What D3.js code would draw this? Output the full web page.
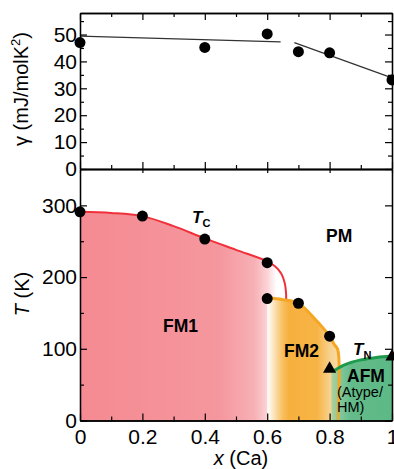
<!DOCTYPE html>
<html>
<head>
<meta charset="utf-8">
<script src="https://cdn.jsdelivr.net/npm/d3@7"></script>
<style>
  body { margin: 0; background: #fff; }
  text { font-family: "Liberation Sans", Arial, sans-serif; }
</style>
</head>
<body>
<script>
// data
const xMajor = [0, 0.2, 0.4, 0.6, 0.8, 1]
const xMinor = [0.1, 0.3, 0.5, 0.7, 0.9]
const gammaTicks = [0, 10, 20, 30, 40, 50]
const gammaMinor = [5, 15, 25, 35, 45, 55]
const tTicks = [0, 100, 200, 300]
const tMinor = [50, 150, 250]

const gammaX = [0, 0.4, 0.6, 0.7, 0.8, 1.0]
const gammaVal = [47, 45.2, 50.2, 43.6, 43.2, 33.1]
const gammaFit1 = [[0, 49.4], [0.643, 47.3]]
const gammaFit2 = [[0.687, 47.0], [1.0, 33.9]]

const tcX = [0, 0.2, 0.4, 0.6]
const tcVal = [291, 285, 253, 220]
const fm2X = [0.6, 0.7, 0.8]
const fm2Val = [170, 163.5, 117.5]
const tnX = [0.8, 1.0]
const tnVal = [72, 89]

const tcCurve = [[0, 291], [0.1, 289.5], [0.2, 285], [0.3, 271], [0.4, 254], [0.5, 238], [0.6, 222], [0.625, 215], [0.645, 205], [0.656, 192], [0.66, 180], [0.661, 168]]
const fm2Curve = [[0.6, 171], [0.65, 168.5], [0.7, 163.5], [0.75, 143], [0.8, 117.5], [0.815, 106], [0.826, 99], [0.826, 0]]
const tnCurve = [[0.812, 69], [0.85, 78], [0.9, 84.5], [0.95, 88], [1.0, 90]]

const w = 394
const h = 469
const left = 80
const right = 392
const svg = d3.select("body").append("svg").attr("width", w).attr("height", h)

const x = d3.scaleLinear().domain([0, 1]).range([left, right])
const yG = d3.scaleLinear().domain([0, 58]).range([169, 13])
const yT = d3.scaleLinear().domain([0, 350]).range([420.5, 169.5])

const defs = svg.append("defs")
function grad(id, stops) {
  const g = defs.append("linearGradient").attr("id", id)
    .attr("gradientUnits", "userSpaceOnUse")
    .attr("x1", x(0)).attr("x2", x(1)).attr("y1", 0).attr("y2", 0)
  stops.forEach((s) => g.append("stop").attr("offset", s[0]).attr("stop-color", s[1]))
}
grad("pink", [[0, "#f58a92"], [0.45, "#f5979e"], [0.56, "#f7b1b6"], [0.6, "#fbd3d6"], [0.63, "#ffffff"]])
grad("orange", [[0.6, "#ffffff"], [0.615, "#fdecd2"], [0.65, "#f8bf5e"], [0.67, "#f7b03e"], [0.76, "#f7b445"], [0.8, "#f8d08c"], [0.83, "#f6dca8"]])
grad("green", [[0.8, "#cfe6c2"], [0.83, "#86c99e"], [0.87, "#63bb89"], [1, "#5cb986"]])

const line = d3.line().x((d) => x(d[0])).curve(d3.curveCatmullRom)
const lineT = line.y((d) => yT(d[1]))

// regions
svg.append("path")
  .attr("d", lineT(tcCurve) + `L${x(0.661)},${yT(0)}L${x(0)},${yT(0)}Z`)
  .attr("fill", "url(#pink)")
svg.append("path")
  .attr("d", `M${x(0.6)},${yT(0)}` + lineT(fm2Curve).replace("M", "L") + "Z")
  .attr("fill", "url(#orange)")
svg.append("path")
  .attr("d", lineT(tnCurve.slice(0, 1).concat(tnCurve)) + `L${x(1)},${yT(0)}L${x(0.806)},${yT(0)}L${x(0.806)},${yT(69)}Z`)
  .attr("fill", "url(#green)")

// boundary lines
svg.append("path").attr("d", lineT(tcCurve)).attr("fill", "none")
  .attr("stroke", "#f0303a").attr("stroke-width", 2)
svg.append("path").attr("d", lineT(fm2Curve)).attr("fill", "none")
  .attr("stroke", "#f5a623").attr("stroke-width", 3)
svg.append("path")
  .attr("d", `M${x(0.806)},${yT(69)}L${x(0.826)},${yT(69)}L${x(0.826)},${yT(0)}L${x(0.806)},${yT(0)}Z`)
  .attr("fill", "#9cc489").attr("opacity", 0.55)
svg.append("path").attr("d", lineT(tnCurve)).attr("fill", "none")
  .attr("stroke", "#1e9a4c").attr("stroke-width", 3)

// gamma fits
const lineG = d3.line().x((d) => x(d[0])).y((d) => yG(d[1]))
;[gammaFit1, gammaFit2].forEach((f) => {
  svg.append("path").attr("d", lineG(f)).attr("stroke", "#333").attr("stroke-width", 1.2).attr("fill", "none")
})

// axes
function ax(gen, tx, ty, ticks, size, labels, pad) {
  const a = gen.tickValues(ticks).tickSizeInner(size).tickSizeOuter(0).tickPadding(pad || 3)
  a.tickFormat(labels ? (d) => String(d) : "")
  const g = svg.append("g").attr("transform", `translate(${tx},${ty})`).call(a)
  g.selectAll("line").attr("stroke", "#000").attr("stroke-width", 1.2)
  g.select(".domain").attr("stroke", "#000").attr("stroke-width", 1.3)
  g.selectAll("text").attr("font-size", 21).attr("fill", "#000")
    .style("font-family", '"Liberation Sans", Arial, sans-serif')
  return g
}
// top panel
ax(d3.axisTop(x), 0, 13, xMajor, -7)
ax(d3.axisTop(x), 0, 13, xMinor, -4)
ax(d3.axisBottom(x), 0, 169, xMajor, -7)
ax(d3.axisBottom(x), 0, 169, xMajor, 4)
ax(d3.axisBottom(x), 0, 169, xMinor, -4)
ax(d3.axisLeft(yG), left, 0, gammaTicks, -7, true, 3)
ax(d3.axisLeft(yG), left, 0, gammaMinor, -4)
ax(d3.axisRight(yG), right, 0, gammaTicks, -7)
ax(d3.axisRight(yG), right, 0, gammaMinor, -4)
// bottom panel
ax(d3.axisBottom(x), 0, 420.5, xMajor, -7, true, 9)
ax(d3.axisBottom(x), 0, 420.5, xMinor, -4)
ax(d3.axisLeft(yT), left, 0, tTicks, -7, true, 3)
ax(d3.axisLeft(yT), left, 0, tMinor, -4)
ax(d3.axisRight(yT), right, 0, tTicks, -7)
ax(d3.axisRight(yT), right, 0, tMinor, -4)

// points
svg.selectAll(".g").data(gammaX).enter().append("circle")
  .attr("cx", (d) => x(d)).attr("cy", (d, i) => yG(gammaVal[i])).attr("r", 5.5).attr("fill", "#000")
const tPts = tcX.map((d, i) => [d, tcVal[i]]).concat(fm2X.map((d, i) => [d, fm2Val[i]]))
svg.selectAll(".t").data(tPts).enter().append("circle")
  .attr("cx", (d) => x(d[0])).attr("cy", (d) => yT(d[1])).attr("r", 5.5).attr("fill", "#000")
svg.selectAll(".n").data(tnX).enter().append("path")
  .attr("d", d3.symbol(d3.symbolTriangle).size(75))
  .attr("transform", (d, i) => `translate(${x(d)},${yT(tnVal[i])})`).attr("fill", "#000")

// labels
svg.append("text").attr("transform", "translate(28,89) rotate(-90)").attr("text-anchor", "middle")
  .attr("font-size", 20).html('γ (mJ/molK<tspan dy="-8" font-size="13">2</tspan><tspan dy="8">)</tspan>')
svg.append("text").attr("transform", "translate(29,294) rotate(-90)").attr("text-anchor", "middle")
  .attr("font-size", 20).html('<tspan font-style="italic">T</tspan> (K)')
svg.append("text").attr("x", 241).attr("y", 465).attr("text-anchor", "middle")
  .attr("font-size", 20).html('<tspan font-style="italic">x</tspan> (Ca)')

function lab(tx, ty, txt, size, bold) {
  svg.append("text").attr("x", tx).attr("y", ty).attr("font-size", size)
    .attr("font-weight", bold ? "bold" : "normal").html(txt)
}
lab(192, 223, '<tspan font-style="italic">T</tspan><tspan font-size="11" dy="4">C</tspan>', 17, true)
lab(353, 355, '<tspan font-style="italic">T</tspan><tspan font-size="11" dy="4">N</tspan>', 17, true)
lab(326, 242, "PM", 17.5, true)
lab(163, 332, "FM1", 17.5, true)
lab(284, 357, "FM2", 17.5, true)
lab(347, 382, "AFM", 17.5, true)
lab(337, 397, "(Atype/", 14.5, false)
lab(337, 412, "HM)", 14.5, false)
</script>
</body>
</html>
